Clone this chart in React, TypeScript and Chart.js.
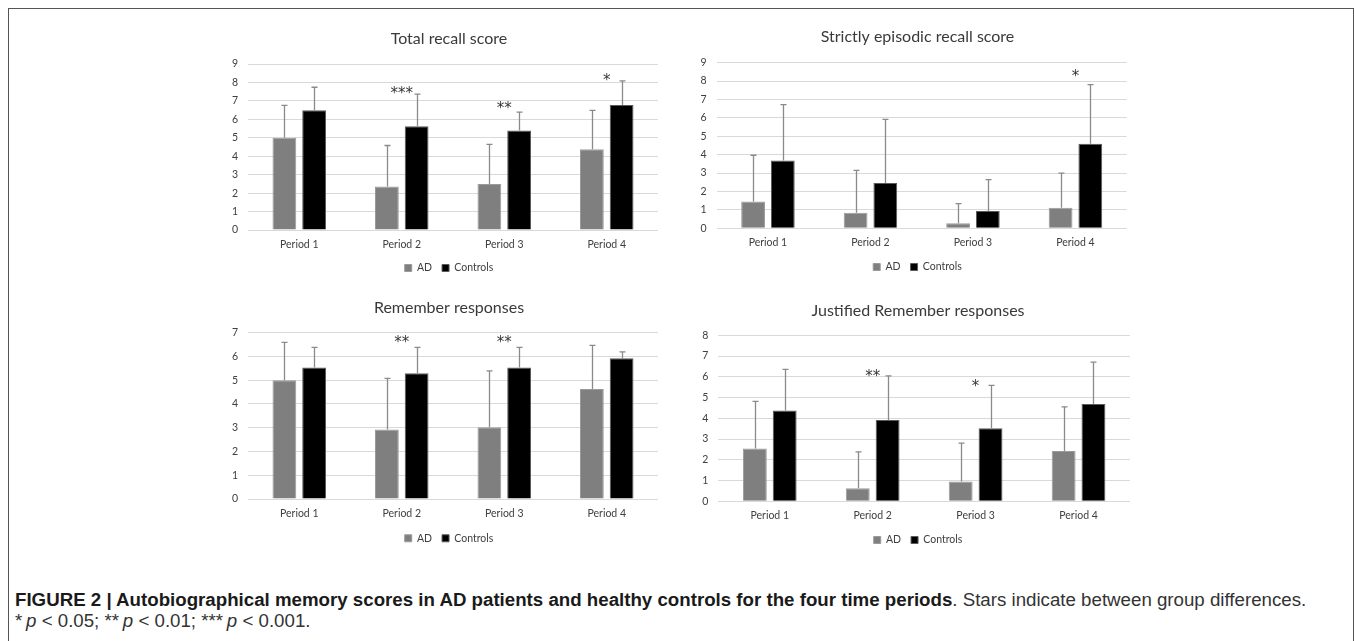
import React, { useEffect, useRef } from "react";
import { Chart, registerables } from "chart.js";

Chart.register(...registerables);

// ---------- data ----------
const periods = ["Period 1", "Period 2", "Period 3", "Period 4"];
const groupNames = ["AD", "Controls"];

const totalTitle = "Total recall score";
const totalAD = [5.0, 2.36, 2.5, 4.38];
const totalADErr = [6.76, 4.58, 4.64, 6.49];
const totalCtl = [6.49, 5.62, 5.4, 6.78];
const totalCtlErr = [7.74, 7.37, 6.39, 8.08];
const totalStars = ["", "***", "**", "*"];
const totalStarLevels = [0, 7.6, 6.8, 8.3];
const totalMax = 9;

const episodicTitle = "Strictly episodic recall score";
const episodicAD = [1.45, 0.85, 0.27, 1.12];
const episodicADErr = [3.97, 3.15, 1.34, 3.0];
const episodicCtl = [3.68, 2.46, 0.94, 4.6];
const episodicCtlErr = [6.72, 5.92, 2.64, 7.81];
const episodicStars = ["", "", "", "*"];
const episodicStarLevels = [0, 0, 0, 8.42];
const episodicMax = 9;

const rememberTitle = "Remember responses";
const rememberAD = [5.0, 2.93, 3.02, 4.63];
const rememberADErr = [6.59, 5.08, 5.39, 6.47];
const rememberCtl = [5.53, 5.29, 5.53, 5.92];
const rememberCtlErr = [6.38, 6.38, 6.38, 6.19];
const rememberStars = ["", "**", "**", ""];
const rememberStarLevels = [0, 6.72, 6.72, 0];
const rememberMax = 7;

const justifiedTitle = "Justified Remember responses";
const justifiedAD = [2.55, 0.63, 0.95, 2.43];
const justifiedADErr = [4.82, 2.38, 2.8, 4.55];
const justifiedCtl = [4.37, 3.92, 3.52, 4.69];
const justifiedCtlErr = [6.36, 6.04, 5.59, 6.71];
const justifiedStars = ["", "**", "*", ""];
const justifiedStarLevels = [0, 6.17, 5.69, 0];
const justifiedMax = 8;

// ---------- styles ----------
const FONT = "Lato, 'Open Sans', sans-serif";
const STAR_FONT = "'DejaVu Sans', sans-serif";
const AD_FILL = "#7f7f7f";
const AD_BORDER = "#9a9a9a";
const CTL_FILL = "#000000";
const CTL_BORDER = "#5a5a5a";
const ERR_COLOR = "#8a8a8a";
const GRID_COLOR = "#d9d9d9";
const TEXT_COLOR = "#404040";
const TITLE_COLOR = "#3a3a3a";
const STAR_COLOR = "#383838";
const TITLE_SIZE = 16;
const TICK_SIZE = 10.5;
const LEGEND_SIZE = 10.5;
const LEGEND_PAD = 10;
const STAR_SIZE = 15;
const Y_AXIS_W = 18;

type Layout = {
  left: number; top: number; width: number; height: number;
  plotLeft: number; plotRight: number; plotTop: number; plotBottom: number;
  titleY: number; legendY: number; centerX: number;
};

type Panel = {
  title: string; ad: number[]; adErr: number[]; ctl: number[]; ctlErr: number[];
  stars: string[]; starLevels: number[]; max: number; layout: Layout;
};

const panels: Panel[] = [
  {
    title: totalTitle, ad: totalAD, adErr: totalADErr, ctl: totalCtl, ctlErr: totalCtlErr,
    stars: totalStars, starLevels: totalStarLevels, max: totalMax,
    layout: { left: 190, top: 10, width: 480, height: 275, plotLeft: 248, plotRight: 658, plotTop: 64, plotBottom: 230, titleY: 39, legendY: 268, centerX: 449 },
  },
  {
    title: episodicTitle, ad: episodicAD, adErr: episodicADErr, ctl: episodicCtl, ctlErr: episodicCtlErr,
    stars: episodicStars, starLevels: episodicStarLevels, max: episodicMax,
    layout: { left: 680, top: 10, width: 470, height: 275, plotLeft: 716.7, plotRight: 1126.7, plotTop: 62.7, plotBottom: 228.3, titleY: 36.7, legendY: 267, centerX: 917.5 },
  },
  {
    title: rememberTitle, ad: rememberAD, adErr: rememberADErr, ctl: rememberCtl, ctlErr: rememberCtlErr,
    stars: rememberStars, starLevels: rememberStarLevels, max: rememberMax,
    layout: { left: 190, top: 285, width: 480, height: 270, plotLeft: 248, plotRight: 658, plotTop: 332.7, plotBottom: 499, titleY: 308.3, legendY: 538.3, centerX: 449 },
  },
  {
    title: justifiedTitle, ad: justifiedAD, adErr: justifiedADErr, ctl: justifiedCtl, ctlErr: justifiedCtlErr,
    stars: justifiedStars, starLevels: justifiedStarLevels, max: justifiedMax,
    layout: { left: 680, top: 285, width: 470, height: 270, plotLeft: 718.3, plotRight: 1130, plotTop: 335.3, plotBottom: 501.3, titleY: 310.7, legendY: 540, centerX: 918 },
  },
];

function makeOverlay(errs: number[][], stars: string[], starLevels: number[]) {
  return {
    id: "errAndStars",
    afterDatasetsDraw(chart: any) {
      const ctx = chart.ctx;
      const ys = chart.scales.y;
      const xs = chart.scales.x;
      ctx.save();
      ctx.strokeStyle = ERR_COLOR;
      ctx.lineWidth = 1.3;
      chart.data.datasets.forEach((_ds: any, di: number) => {
        const meta = chart.getDatasetMeta(di);
        meta.data.forEach((bar: any, i: number) => {
          const top = ys.getPixelForValue(errs[di][i]);
          const bx = Math.round(bar.x) + 0.5;
          ctx.beginPath();
          ctx.moveTo(bx, bar.y);
          ctx.lineTo(bx, top);
          ctx.moveTo(bx - 3, top);
          ctx.lineTo(bx + 3, top);
          ctx.stroke();
        });
      });
      ctx.fillStyle = STAR_COLOR;
      ctx.font = `${STAR_SIZE}px ${STAR_FONT}`;
      ctx.textAlign = "center";
      ctx.textBaseline = "alphabetic";
      stars.forEach((s, i) => {
        if (!s) return;
        ctx.fillText(s, xs.getPixelForValue(i), ys.getPixelForValue(starLevels[i]) + STAR_SIZE * 0.53);
      });
      ctx.restore();
    },
  };
}

function PanelChart({ panel }: { panel: Panel }) {
  const ref = useRef<HTMLCanvasElement | null>(null);
  const L = panel.layout;

  useEffect(() => {
    if (!ref.current) return;
    const A = L.plotLeft - Y_AXIS_W;
    const padLeft = A - L.left;
    const rightW = Math.max(0, 2 * L.centerX - A - L.plotRight);
    const padRight = L.left + L.width - L.plotRight - rightW;
    const titleLH = TITLE_SIZE * 1.2;
    const titlePadTop = L.titleY - L.top - titleLH / 2;
    const titlePadBottom = L.plotTop - L.top - titlePadTop - titleLH;
    const legendH = LEGEND_SIZE + LEGEND_PAD + 10;
    const xAxisH = L.legendY - L.plotBottom - (LEGEND_PAD + LEGEND_SIZE / 2);
    const padBottom = L.top + L.height - L.plotBottom - xAxisH - legendH;

    const chart = new Chart(ref.current, {
      type: "bar",
      data: {
        labels: periods,
        datasets: [
          { label: groupNames[0], data: panel.ad, backgroundColor: AD_FILL, borderColor: AD_BORDER, borderWidth: 1, categoryPercentage: 0.58, barPercentage: 0.8 },
          { label: groupNames[1], data: panel.ctl, backgroundColor: CTL_FILL, borderColor: CTL_BORDER, borderWidth: 1, categoryPercentage: 0.58, barPercentage: 0.8 },
        ],
      },
      options: {
        responsive: false,
        animation: false,
        events: [],
        layout: { padding: { left: padLeft, right: padRight, top: 0, bottom: padBottom } },
        plugins: {
          title: {
            display: true,
            text: panel.title,
            color: TITLE_COLOR,
            font: { family: FONT, size: TITLE_SIZE, weight: "normal" },
            padding: { top: titlePadTop, bottom: titlePadBottom },
          },
          legend: {
            position: "bottom",
            labels: {
              boxWidth: 7,
              boxHeight: 7,
              padding: LEGEND_PAD,
              color: TEXT_COLOR,
              font: { family: FONT, size: LEGEND_SIZE },
            },
          },
          tooltip: { enabled: false },
        },
        scales: {
          x: {
            grid: { display: false, drawTicks: false },
            border: { display: false },
            ticks: { padding: 8, color: TEXT_COLOR, font: { family: FONT, size: TICK_SIZE } },
            afterFit: (s: any) => { s.height = xAxisH; },
          },
          y: {
            min: 0,
            max: panel.max,
            ticks: { stepSize: 1, padding: 10, color: TEXT_COLOR, font: { family: FONT, size: TICK_SIZE } },
            grid: { color: GRID_COLOR, drawTicks: false, lineWidth: 1 },
            border: { display: false },
            afterFit: (s: any) => { s.width = Y_AXIS_W; },
          },
          yRight: {
            position: "right",
            min: 0,
            max: panel.max,
            ticks: { display: false },
            grid: { display: false, drawTicks: false },
            border: { display: false },
            afterFit: (s: any) => { s.width = rightW; },
          },
        },
      } as any,
      plugins: [makeOverlay([panel.adErr, panel.ctlErr], panel.stars, panel.starLevels)],
    });
    return () => chart.destroy();
  }, [panel]);

  return (
    <canvas
      ref={ref}
      width={L.width}
      height={L.height}
      style={{ position: "absolute", left: L.left, top: L.top, width: L.width, height: L.height }}
    />
  );
}

const captionStyle: React.CSSProperties = {
  position: "absolute", left: 15, whiteSpace: "nowrap",
  fontFamily: "'Liberation Sans', Arial, sans-serif", fontSize: 18.7, lineHeight: "22px", color: "#333",
};

export default function App() {
  return (
    <div style={{ position: "fixed", left: 0, top: 0, width: 1354, height: 641, overflow: "hidden", background: "#fff" }}>
      <div
        style={{
          position: "absolute", left: 8, top: 8, width: 1346, height: 700,
          border: "1.5px solid #555", boxSizing: "border-box",
        }}
      />
      {panels.map((p, i) => (
        <PanelChart key={i} panel={p} />
      ))}
      <div style={{ ...captionStyle, top: 589 }}>
        <b style={{ color: "#1a1a1a" }}>FIGURE 2 | Autobiographical memory scores in AD patients and healthy controls for the four time periods</b>. Stars indicate between group differences.
      </div>
      <div style={{ ...captionStyle, top: 610 }}>
        *{"\u2009"}<i>p</i> &lt; 0.05; **{"\u2009"}<i>p</i> &lt; 0.01; ***{"\u2009"}<i>p</i> &lt; 0.001.
      </div>
    </div>
  );
}
